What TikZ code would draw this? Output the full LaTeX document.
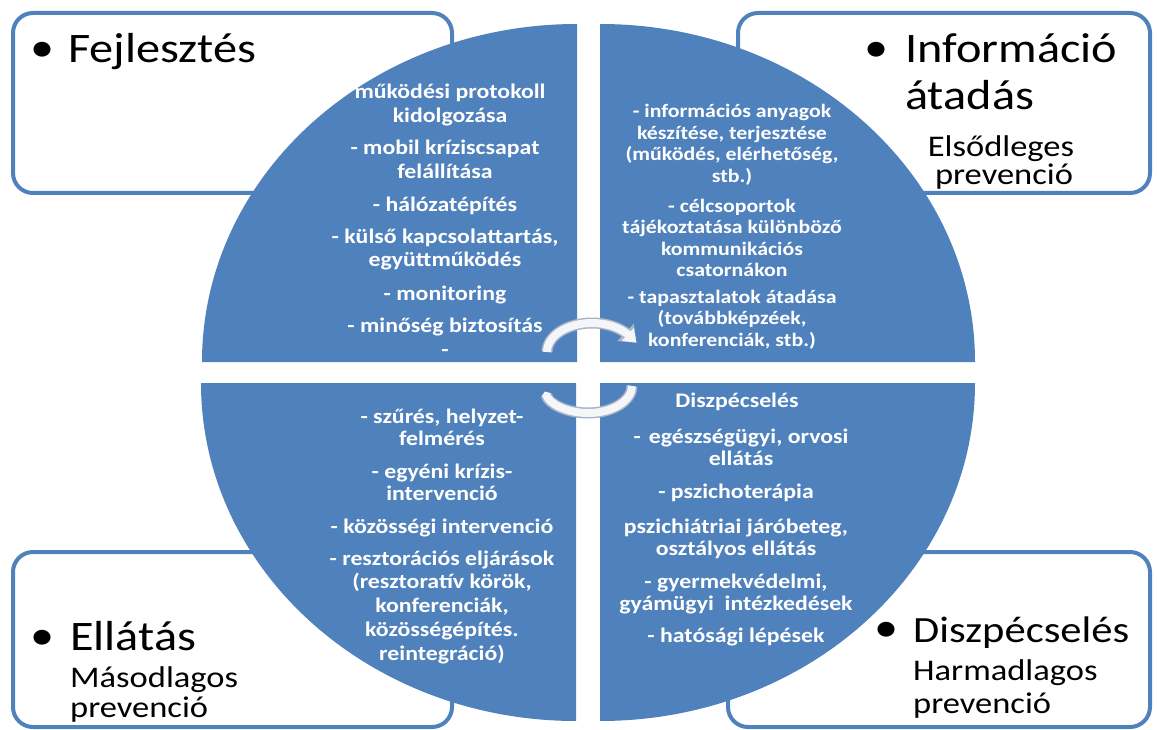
\documentclass[tikz,border=0pt]{standalone}
\usepackage{fontspec}
\setmainfont{Carlito}[FakeStretch=1.15]
\usetikzlibrary{arrows.meta}
\definecolor{qblue}{HTML}{4F81BD}
\definecolor{arrowedge}{HTML}{A9B4C6}
\definecolor{arrowfill}{HTML}{F4F6FA}
\begin{document}
\begin{tikzpicture}[x=1pt,y=-1pt,
  box/.style={draw=qblue, line width=4pt, fill=white, rounded corners=20pt},
  quad/.style={fill=qblue, draw=none},
  ctext/.style={text=white, font=\fontsize{20.7}{24}\selectfont\bfseries, align=center, anchor=base, inner sep=0pt},
  ttext/.style={text=white, font=\fontsize{19}{21.5}\selectfont\bfseries, align=center, anchor=base, inner sep=0pt},
  btext/.style={text=white, font=\fontsize{20.7}{22.5}\selectfont\bfseries, align=center, anchor=base, inner sep=0pt},
  ltext/.style={text=white, font=\fontsize{20.7}{23.75}\selectfont\bfseries, align=center, anchor=base, inner sep=0pt},
  big/.style={font=\fontsize{42}{48}\selectfont, anchor=base west, inner sep=0pt},
  bigs/.style={font=\fontsize{37}{42}\selectfont, anchor=base west, inner sep=0pt},
  sub/.style={font=\fontsize{30}{34}\selectfont, anchor=base west, inner sep=0pt},
  subc/.style={font=\fontsize{30}{34}\selectfont, anchor=base, inner sep=0pt},
  bul/.style={font=\fontsize{42}{48}\selectfont, anchor=center, inner sep=0pt},
  arrowedgeline/.style={draw=arrowedge, line width=11pt},
  arrowfillline/.style={draw=arrowfill, line width=8pt}
]
\useasboundingbox (0,0) rectangle (1157,730);
\fill[white] (0,0) rectangle (1157,730);

% corner boxes
\draw[box] (13,13) rectangle (452,193);
\draw[box] (738,13) rectangle (1150,193);
\draw[box] (13,552) rectangle (452,727);
\draw[box] (728,552) rectangle (1150,727);

% quadrants
\fill[quad] (577,362) -- (202,362) arc[start angle=180, end angle=270, x radius=375, y radius=338] -- cycle;
\fill[quad] (600,362) -- (975,362) arc[start angle=0, end angle=-90, x radius=375, y radius=338] -- cycle;
\fill[quad] (576,383) -- (201,383) arc[start angle=180, end angle=90, x radius=375, y radius=338] -- cycle;
\fill[quad] (600,383) -- (975,383) arc[start angle=0, end angle=90, x radius=375, y radius=338] -- cycle;

% box texts
\node[bul] (tlb) at (43,52) {•};
\node[big] (tlt) at (68,63) {Fejlesztés};

\node[bul] (trb) at (877,52) {•};
\node[big] (trt1) at (905,63) {Információ};
\node[big] (trt2) at (905,110) {átadás};
\node[subc] (trs1) at (1001,157) {Elsődleges};
\node[subc] (trs2) at (1004,185) {prevenció};

\node[bul] (blb) at (43,640) {•};
\node[big] (blt) at (70,650) {Ellátás};
\node[sub] (bls1) at (70,687) {Másodlagos};
\node[sub] (bls2) at (70,717) {prevenció};

\node[bul] (brb) at (887,632) {•};
\node[bigs] (brt) at (913,642) {Diszpécselés};
\node[sub] (brs1) at (913,680) {Harmadlagos};
\node[sub] (brs2) at (913,713) {prevenció};

% top-left quadrant text (anchor = baseline of last line)
\node[ctext] (tl1) at (450,123) {működési protokoll\\kidolgozása};
\node[ctext] (tl2) at (445,179) {- mobil kríziscsapat\\felállítása};
\node[ctext] (tl3) at (445,212) {- hálózatépítés};
\node[ctext] (tl4) at (445,267) {- külső kapcsolattartás,\\együttműködés};
\node[ctext] (tl5) at (445,300) {- monitoring};
\node[ctext] (tl6) at (445,332) {- minőség biztosítás};
\node[ctext] (tl7) at (445,356) {-};

% top-right quadrant text
\node[ttext] (tr1) at (732,182.5) {- információs anyagok\\készítése, terjesztése\\(működés, elérhetőség,\\stb.)};
\node[ttext] (tr2) at (732,276.5) {- célcsoportok\\tájékoztatása különböző\\kommunikációs\\csatornákon};
\node[ttext] (tr3) at (732,346) {- tapasztalatok átadása\\(továbbképzéek,\\konferenciák, stb.)};

% bottom-left quadrant text
\node[btext] (bl1) at (442,445.5) {- szűrés, helyzet-\\felmérés};
\node[btext] (bl2) at (442,500.5) {- egyéni krízis-\\intervenció};
\node[btext] (bl3) at (442,533) {- közösségi intervenció};
\node[ltext] (bl4) at (442,660) {- resztorációs eljárások\\(resztoratív körök,\\konferenciák,\\közösségépítés.\\reintegráció)};

% bottom-right quadrant text
\node[btext] (br0) at (737,407) {Diszpécselés};
\node[btext] (br1) at (741,465.5) {-\hspace{8pt}egészségügyi, orvosi\\ellátás};
\node[btext] (br2) at (736,498) {- pszichoterápia};
\node[btext] (br3) at (736,555.5) {pszichiátriai járóbeteg,\\osztályos ellátás};
\node[btext] (br4) at (736,610.5) {- gyermekvédelmi,\\gyámügyi\ \ intézkedések};
\node[btext] (br5) at (736,642) {- hatósági lépések};

% cycle arrows
\coordinate (tas) at (547,352);
\coordinate (bas) at (632,386);
\draw[arrowedgeline, -{Triangle[length=15pt,width=23pt]}] (tas) arc[start angle=180, end angle=322, x radius=45, y radius=29] -- ++(9,8.5);
\draw[arrowfillline, -{Triangle[length=12pt,width=17pt]}] (tas) arc[start angle=180, end angle=322, x radius=45, y radius=29] -- ++(9,8.5);
\draw[arrowedgeline, -{Triangle[length=5pt,width=13pt]}] (bas) arc[start angle=0, end angle=168, x radius=44, y radius=27];
\draw[arrowfillline, -{Triangle[length=3.5pt,width=10pt]}] (bas) arc[start angle=0, end angle=168, x radius=44, y radius=27];
\end{tikzpicture}
\end{document}
